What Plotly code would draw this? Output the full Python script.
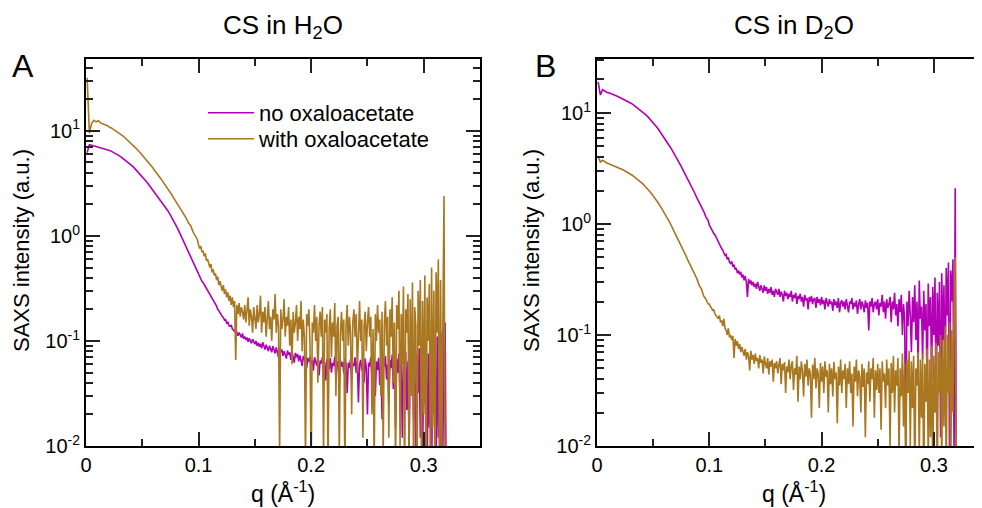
import numpy as np
import plotly.graph_objects as go

# q grids (Å^-1): coarse below 0.1, fine (0.001) in the noisy high-q part
q_lo = np.round(0.001 + 0.002 * np.arange(50), 4)     # 0.001 .. 0.099
q_hi = np.round(0.100 + 0.001 * np.arange(221), 4)    # 0.100 .. 0.320

# ---------------- Panel A: CS in H2O ----------------
h2o_no_oxa_lo = [
    6.2, 7.4, 7.3, 7.2, 7.1, 7.0, 6.95, 6.85, 6.75, 6.6,
    6.5, 6.35, 6.2, 6.05, 5.85, 5.65, 5.45, 5.25, 5.05, 4.85,
    4.65, 4.42, 4.2, 3.98, 3.76, 3.55, 3.35, 3.15, 2.95, 2.77,
    2.6, 2.43, 2.27, 2.12, 1.98, 1.85, 1.72, 1.58, 1.45, 1.32,
    1.2, 1.08, 0.97, 0.87, 0.78, 0.7, 0.62, 0.56, 0.5, 0.45,
]
h2o_no_oxa_hi = [
    0.42, 0.40, 0.39, 0.37, 0.36, 0.345, 0.33, 0.315, 0.30, 0.29,
    0.275, 0.265, 0.25, 0.245, 0.23, 0.22, 0.215, 0.2, 0.195, 0.185,
    0.18, 0.17, 0.168, 0.158, 0.16, 0.148, 0.152, 0.14, 0.138, 0.142,
    0.13, 0.128, 0.122, 0.13, 0.118, 0.112, 0.12, 0.115, 0.108, 0.118,
    0.105, 0.11, 0.102, 0.108, 0.098, 0.106, 0.1, 0.095, 0.104, 0.097,
    0.093, 0.1, 0.09, 0.096, 0.088, 0.094, 0.085, 0.097, 0.089, 0.083,
    0.092, 0.086, 0.08, 0.09, 0.084, 0.078, 0.089, 0.082, 0.076, 0.087,
    0.08, 0.07, 0.085, 0.078, 0.083, 0.072, 0.08, 0.075, 0.068, 0.081,
    0.074, 0.078, 0.066, 0.079, 0.071, 0.062, 0.077, 0.07, 0.075, 0.064,
    0.073, 0.067, 0.058, 0.072, 0.066, 0.07, 0.055, 0.069, 0.063, 0.071,
    0.06, 0.066, 0.052, 0.07, 0.064, 0.058, 0.068, 0.047, 0.065, 0.061,
    0.07, 0.056, 0.063, 0.042, 0.067, 0.06, 0.054, 0.069, 0.05, 0.062,
    0.058, 0.071, 0.045, 0.064, 0.06, 0.035, 0.066, 0.057, 0.063, 0.049,
    0.068, 0.06, 0.032, 0.062, 0.055, 0.067, 0.044, 0.061, 0.058, 0.07,
    0.05, 0.064, 0.026, 0.059, 0.066, 0.052, 0.063, 0.04, 0.068, 0.055,
    0.02, 0.062, 0.057, 0.07, 0.045, 0.06, 0.066, 0.03, 0.064, 0.053,
    0.069, 0.038, 0.061, 0.018, 0.065, 0.057, 0.072, 0.043, 0.06, 0.025,
    0.066, 0.055, 0.074, 0.035, 0.062, 0.015, 0.068, 0.05, 0.076, 0.028,
    0.063, 0.012, 0.07, 0.045, 0.078, 0.022, 0.064, 0.009, 0.072, 0.04,
    0.08, 0.018, 0.066, 0.007, 0.075, 0.032, 0.085, 0.012, 0.07, 0.006,
    0.082, 0.025, 0.09, 0.005, 0.076, 0.015, 0.095, 0.004, 0.085, 0.02,
    0.1, 0.006, 0.11, 0.012, 0.09, 0.004, 0.12, 0.008, 0.13, 0.15,
    0.003,
]
h2o_with_oxa_lo = [
    32, 9.5, 11.8, 12.6, 12.2, 12.5, 11.9, 11.7, 11.4, 11.2,
    10.8, 10.6, 10.2, 9.9, 9.6, 9.2, 8.9, 8.5, 8.15, 7.8,
    7.45, 7.1, 6.75, 6.4, 6.05, 5.7, 5.4, 5.1, 4.8, 4.5,
    4.2, 3.95, 3.7, 3.45, 3.2, 3.0, 2.78, 2.58, 2.38, 2.2,
    2.03, 1.9, 1.72, 1.62, 1.48, 1.33, 1.25, 1.1, 1.02, 0.92,
]
h2o_with_oxa_hi = [
    0.82, 0.76, 0.8, 0.7, 0.72, 0.64, 0.68, 0.58, 0.6, 0.53,
    0.5, 0.54, 0.45, 0.48, 0.42, 0.44, 0.38, 0.41, 0.34, 0.37,
    0.33, 0.3, 0.34, 0.28, 0.31, 0.26, 0.29, 0.24, 0.27, 0.22,
    0.26, 0.21, 0.24, 0.066, 0.22, 0.18, 0.23, 0.17, 0.21, 0.19,
    0.16, 0.22, 0.15, 0.19, 0.26, 0.14, 0.2, 0.17, 0.12, 0.21,
    0.16, 0.13, 0.22, 0.15, 0.18, 0.27, 0.12, 0.19, 0.15, 0.21,
    0.11, 0.18, 0.24, 0.13, 0.17, 0.1, 0.2, 0.16, 0.28, 0.12,
    0.18, 0.14, 0.009, 0.2, 0.13, 0.16, 0.25, 0.11, 0.17, 0.14,
    0.21, 0.09, 0.16, 0.06, 0.19, 0.12, 0.15, 0.22, 0.1, 0.17,
    0.13, 0.24, 0.08, 0.16, 0.11, 0.007, 0.18, 0.14, 0.2, 0.09,
    0.005, 0.15, 0.12, 0.22, 0.1, 0.17, 0.04, 0.14, 0.19, 0.11,
    0.21, 0.008, 0.16, 0.12, 0.18, 0.006, 0.13, 0.2, 0.07, 0.15,
    0.11, 0.23, 0.03, 0.14, 0.17, 0.008, 0.12, 0.19, 0.1, 0.16,
    0.005, 0.14, 0.22, 0.09, 0.17, 0.12, 0.02, 0.15, 0.2, 0.11,
    0.18, 0.05, 0.13, 0.24, 0.1, 0.16, 0.012, 0.14, 0.19, 0.08,
    0.15, 0.21, 0.11, 0.17, 0.02, 0.13, 0.006, 0.18, 0.1, 0.22,
    0.12, 0.16, 0.03, 0.19, 0.008, 0.14, 0.24, 0.09, 0.17, 0.012,
    0.2, 0.11, 0.26, 0.04, 0.15, 0.005, 0.22, 0.13, 0.3, 0.01,
    0.18, 0.06, 0.33, 0.004, 0.2, 0.12, 0.28, 0.008, 0.25, 0.03,
    0.36, 0.005, 0.21, 0.14, 0.003, 0.3, 0.09, 0.38, 0.006, 0.24,
    0.02, 0.42, 0.004, 0.26, 0.1, 0.35, 0.003, 0.5, 0.015, 0.3,
    0.005, 0.45, 0.12, 0.6, 0.003, 0.38, 0.008, 0.55, 2.4, 0.004,
    0.003,
]

# ---------------- Panel B: CS in D2O ----------------
d2o_no_oxa_lo = [
    19, 14.5, 16.2, 15.6, 15.3, 15.1, 14.9, 14.6, 14.3, 14.0,
    13.7, 13.4, 13.1, 12.8, 12.5, 12.1, 11.7, 11.3, 10.9, 10.5,
    10.1, 9.7, 9.3, 8.85, 8.4, 7.95, 7.5, 7.05, 6.6, 6.15,
    5.75, 5.35, 4.95, 4.6, 4.25, 3.9, 3.6, 3.3, 3.0, 2.75,
    2.5, 2.28, 2.08, 1.9, 1.72, 1.58, 1.42, 1.3, 1.16, 1.07,
]
d2o_no_oxa_hi = [
    0.98, 0.93, 0.9, 0.86, 0.82, 0.8, 0.76, 0.71, 0.7, 0.66,
    0.62, 0.6, 0.58, 0.55, 0.52, 0.53, 0.48, 0.5, 0.45, 0.44,
    0.46, 0.41, 0.43, 0.39, 0.4, 0.36, 0.38, 0.35, 0.37, 0.33,
    0.35, 0.31, 0.34, 0.3, 0.22, 0.32, 0.29, 0.31, 0.28, 0.3,
    0.27, 0.29, 0.26, 0.3, 0.27, 0.25, 0.28, 0.26, 0.24, 0.28,
    0.25, 0.27, 0.235, 0.26, 0.24, 0.27, 0.23, 0.25, 0.22, 0.26,
    0.24, 0.23, 0.26, 0.22, 0.245, 0.23, 0.2, 0.25, 0.225, 0.24,
    0.21, 0.235, 0.22, 0.25, 0.2, 0.23, 0.215, 0.24, 0.19, 0.225,
    0.21, 0.235, 0.2, 0.22, 0.18, 0.23, 0.205, 0.215, 0.17, 0.22,
    0.2, 0.225, 0.19, 0.21, 0.215, 0.175, 0.22, 0.195, 0.21, 0.185,
    0.22, 0.19, 0.205, 0.17, 0.215, 0.195, 0.18, 0.21, 0.19, 0.2,
    0.165, 0.21, 0.185, 0.2, 0.175, 0.215, 0.16, 0.195, 0.205, 0.18,
    0.2, 0.17, 0.21, 0.185, 0.16, 0.2, 0.19, 0.215, 0.17, 0.195,
    0.18, 0.205, 0.155, 0.19, 0.21, 0.17, 0.2, 0.185, 0.16, 0.205,
    0.175, 0.195, 0.11, 0.2, 0.18, 0.215, 0.16, 0.19, 0.2, 0.17,
    0.21, 0.15, 0.195, 0.18, 0.23, 0.16, 0.2, 0.14, 0.21, 0.175,
    0.19, 0.22, 0.13, 0.2, 0.17, 0.24, 0.15, 0.19, 0.12, 0.21,
    0.16, 0.23, 0.1, 0.19, 0.14, 0.008, 0.2, 0.12, 0.25, 0.15,
    0.07, 0.22, 0.13, 0.28, 0.09, 0.2, 0.05, 0.31, 0.14, 0.18,
    0.06, 0.25, 0.11, 0.19, 0.03, 0.29, 0.12, 0.22, 0.04, 0.27,
    0.1, 0.33, 0.02, 0.24, 0.08, 0.3, 0.012, 0.36, 0.09, 0.28,
    0.03, 0.4, 0.15, 0.45, 0.006, 0.38, 0.2, 0.48, 0.008, 2.1,
    0.005,
]
d2o_with_oxa_lo = [
    4.1, 3.6, 3.75, 3.6, 3.52, 3.46, 3.4, 3.34, 3.28, 3.21,
    3.14, 3.07, 3.0, 2.93, 2.85, 2.76, 2.67, 2.58, 2.48, 2.38,
    2.28, 2.18, 2.07, 1.96, 1.85, 1.74, 1.63, 1.52, 1.41, 1.31,
    1.21, 1.11, 1.02, 0.93, 0.85, 0.77, 0.7, 0.64, 0.58, 0.52,
    0.47, 0.43, 0.385, 0.35, 0.32, 0.28, 0.26, 0.225, 0.21, 0.19,
]
d2o_with_oxa_hi = [
    0.19, 0.18, 0.175, 0.165, 0.17, 0.155, 0.15, 0.145, 0.14, 0.15,
    0.13, 0.135, 0.12, 0.14, 0.115, 0.11, 0.1, 0.115, 0.095, 0.1,
    0.09, 0.098, 0.062, 0.092, 0.08, 0.088, 0.075, 0.083, 0.07, 0.078,
    0.072, 0.065, 0.075, 0.06, 0.07, 0.064, 0.048, 0.072, 0.06, 0.066,
    0.055, 0.068, 0.058, 0.062, 0.05, 0.066, 0.056, 0.06, 0.045, 0.064,
    0.055, 0.05, 0.062, 0.044, 0.058, 0.052, 0.06, 0.038, 0.056, 0.05,
    0.058, 0.045, 0.054, 0.062, 0.036, 0.055, 0.048, 0.057, 0.03, 0.052,
    0.046, 0.06, 0.04, 0.053, 0.058, 0.032, 0.05, 0.044, 0.065, 0.025,
    0.052, 0.04, 0.058, 0.047, 0.028, 0.055, 0.042, 0.06, 0.035, 0.05,
    0.045, 0.018, 0.054, 0.04, 0.062, 0.033, 0.05, 0.045, 0.022, 0.056,
    0.038, 0.052, 0.03, 0.058, 0.042, 0.048, 0.02, 0.055, 0.036, 0.05,
    0.028, 0.057, 0.04, 0.046, 0.016, 0.052, 0.035, 0.06, 0.03, 0.048,
    0.04, 0.055, 0.022, 0.05, 0.036, 0.058, 0.03, 0.045, 0.015, 0.052,
    0.038, 0.06, 0.028, 0.048, 0.042, 0.02, 0.055, 0.034, 0.05, 0.012,
    0.046, 0.036, 0.058, 0.025, 0.05, 0.04, 0.062, 0.018, 0.048, 0.032,
    0.055, 0.03, 0.05, 0.014, 0.058, 0.038, 0.045, 0.022, 0.06, 0.035,
    0.05, 0.01, 0.056, 0.03, 0.065, 0.02, 0.048, 0.035, 0.062, 0.008,
    0.05, 0.028, 0.068, 0.015, 0.055, 0.006, 0.06, 0.03, 0.072, 0.01,
    0.058, 0.022, 0.065, 0.005, 0.05, 0.035, 0.07, 0.008, 0.06, 0.018,
    0.068, 0.004, 0.055, 0.025, 0.075, 0.007, 0.06, 0.012, 0.08, 0.005,
    0.065, 0.02, 0.085, 0.004, 0.07, 0.03, 0.1, 0.006, 0.09, 0.015,
    0.12, 0.005, 0.1, 0.03, 0.13, 0.004, 0.11, 0.02, 0.18, 0.5,
    0.004,
]

series_names = ["no oxaloacetate", "with oxaloacetate"]
colors = ["#B400B4", "#A8771F"]
major_vals = [0.01, 0.1, 1, 10]
major_text = ["10<sup>-2</sup>", "10<sup>-1</sup>", "10<sup>0</sup>", "10<sup>1</sup>"]
minor_vals = [m * d for d in (0.01, 0.1, 1, 10) for m in range(2, 10)]
x_ticks = [0, 0.1, 0.2, 0.3]
x_tick_text = ["0", "0.1", "0.2", "0.3"]
x_minor = [0.05, 0.15, 0.25, 0.35]

FONT = "Liberation Sans, Arial, Helvetica, sans-serif"
W, H = 982, 508
OFF = 8  # the page body margin: the figure is drawn 8 px right/down in the window

def px(xw):   # window x pixel -> paper fraction
    return (xw - OFF) / W

def py(yw):   # window y pixel -> paper fraction
    return 1 - (yw - OFF) / H

q_all = np.concatenate([q_lo, q_hi])
panels = [
    ("x", "y", h2o_no_oxa_lo + h2o_no_oxa_hi, h2o_with_oxa_lo + h2o_with_oxa_hi),
    ("x2", "y2", d2o_no_oxa_lo + d2o_no_oxa_hi, d2o_with_oxa_lo + d2o_with_oxa_hi),
]

fig = go.Figure()
for k, (xa, ya, no_oxa, with_oxa) in enumerate(panels):
    for j, vals in enumerate([no_oxa, with_oxa]):
        fig.add_trace(go.Scatter(
            x=q_all, y=vals, mode="lines", name=series_names[j],
            showlegend=(k == 0), legend=("legend" if j == 0 else "legend2"),
            line=dict(color=colors[j], width=1.6), xaxis=xa, yaxis=ya))

ydom = [py(446), py(58.5)]

def xax(domain, anchor):
    return dict(domain=domain, range=[0, 0.35], anchor=anchor, automargin=False,
                showgrid=False, zeroline=False,
                showline=True, linecolor="black", linewidth=2, mirror="ticks",
                ticks="inside", ticklen=14, tickwidth=2, tickcolor="#222",
                tickmode="array", tickvals=x_ticks, ticktext=x_tick_text,
                tickfont=dict(size=20, color="black", family=FONT),
                minor=dict(tickmode="array", tickvals=x_minor, ticks="inside",
                           ticklen=7, tickwidth=1.5, tickcolor="#222"))

def yax(rng, anchor):
    return dict(domain=ydom, type="log", range=rng, anchor=anchor, automargin=False,
                showgrid=False, zeroline=False, showline=True, linecolor="black",
                linewidth=2, mirror="ticks", ticks="inside", ticklen=14, tickwidth=2,
                tickcolor="#222", tickmode="array", tickvals=major_vals, ticktext=major_text,
                tickfont=dict(size=20, color="black", family=FONT),
                minor=dict(tickmode="array", tickvals=minor_vals, ticks="inside",
                           ticklen=7, tickwidth=1.5, tickcolor="#222"))

leg_common = dict(xanchor="left", yanchor="top", bgcolor="rgba(0,0,0,0)",
                  itemwidth=46, font=dict(size=22, family=FONT, color="black"))

fig.update_layout(
    width=W, height=H, autosize=False,
    margin=dict(l=0, r=0, t=0, b=0, autoexpand=False),
    paper_bgcolor="white", plot_bgcolor="white",
    font=dict(family=FONT, color="black", size=20),
    xaxis=xax([px(86), px(480)], "y"),
    yaxis=yax([-2, 1.689], "x"),
    xaxis2=xax([px(597), px(990)], "y2"),
    yaxis2=yax([-2, 1.49], "x2"),
    showlegend=True,
    legend=dict(x=px(203), y=py(92), **leg_common),
    legend2=dict(x=px(203), y=py(118), **leg_common),
)

ann = [
    dict(text="A", x=px(10), y=py(66), xanchor="left", yanchor="middle", font=dict(size=32)),
    dict(text="B", x=px(533), y=py(66), xanchor="left", yanchor="middle", font=dict(size=32)),
    dict(text="CS in H<sub>2</sub>O", x=px(283), y=py(26), xanchor="center", yanchor="middle", font=dict(size=26)),
    dict(text="CS in D<sub>2</sub>O", x=px(794), y=py(26), xanchor="center", yanchor="middle", font=dict(size=26)),
    dict(text="SAXS intensity (a.u.)", x=px(21), y=py(251), xanchor="center", yanchor="middle", textangle=-90, font=dict(size=22)),
    dict(text="SAXS intensity (a.u.)", x=px(531), y=py(251), xanchor="center", yanchor="middle", textangle=-90, font=dict(size=22)),
    dict(text="q (Å<sup>-1</sup>)", x=px(283), y=py(492), xanchor="center", yanchor="middle", font=dict(size=23)),
    dict(text="q (Å<sup>-1</sup>)", x=px(794), y=py(492), xanchor="center", yanchor="middle", font=dict(size=23)),
]
for a in ann:
    a.update(xref="paper", yref="paper", showarrow=False)
    a["font"] = dict(family=FONT, color="black", **a["font"])
fig.update_layout(annotations=ann)

fig.write_html("out.html")
